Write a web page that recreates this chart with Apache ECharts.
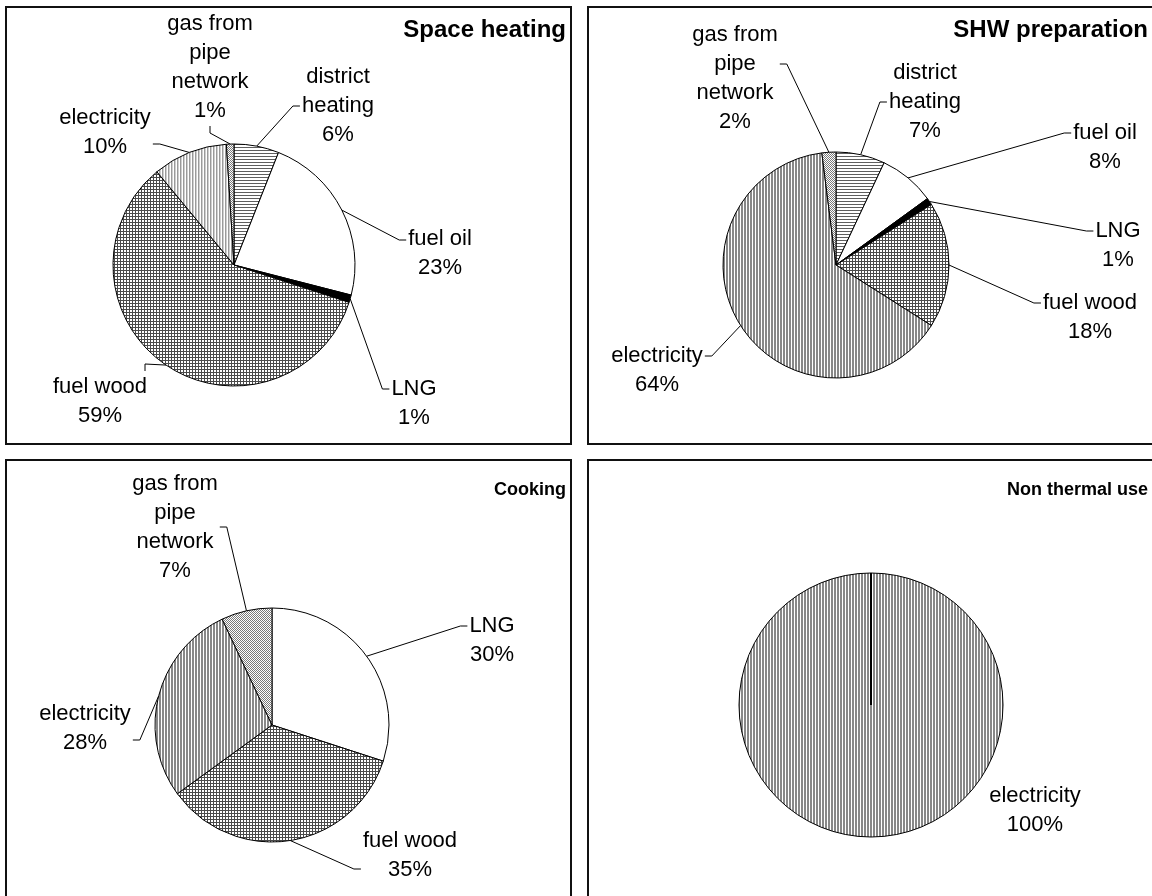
<!DOCTYPE html>
<html>
<head>
<meta charset="utf-8">
<script src="https://cdn.jsdelivr.net/npm/echarts@6/dist/echarts.min.js"></script>
<style>
  html, body { margin: 0; padding: 0; background: #fff; }
  #chart { width: 1152px; height: 896px; }
</style>
</head>
<body>
<div id="chart"></div>
<script>
// ---- data ----
const panelTitles = ['Space heating', 'SHW preparation', 'Cooking', 'Non thermal use'];

const spaceCats = ['district heating', 'fuel oil', 'LNG', 'fuel wood', 'electricity', 'gas from pipe network'];
const spaceVals = [6, 23, 1, 59, 10, 1];

const shwCats = ['district heating', 'fuel oil', 'LNG', 'fuel wood', 'electricity', 'gas from pipe network'];
const shwVals = [7, 8, 1, 18, 64, 2];

const cookCats = ['LNG', 'fuel wood', 'electricity', 'gas from pipe network'];
const cookVals = [30, 35, 28, 7];

const nonThermalCats = ['electricity'];
const nonThermalVals = [100];

// wrapped label text for long category names
const labelText = {
  'district heating': 'district\nheating',
  'gas from pipe network': 'gas from\npipe\nnetwork'
};

// ---- hatch fills ----
function pattern(w, h, draw) {
  const c = document.createElement('canvas');
  c.width = w; c.height = h;
  const g = c.getContext('2d');
  g.imageSmoothingEnabled = false;
  g.fillStyle = '#fff';
  g.fillRect(0, 0, w, h);
  draw(g);
  return { image: c, repeat: 'repeat' };
}
// 6px tiles holding two repeats of a 3px motif
const hStripe = pattern(6, 6, g => { g.fillStyle = '#5e5e5e'; g.fillRect(0, 0, 6, 1); g.fillRect(0, 3, 6, 1); });
const vStripe = pattern(6, 6, g => { g.fillStyle = '#888'; g.fillRect(0, 0, 2, 6); g.fillRect(3, 0, 2, 6); });
const vStripeLight = pattern(6, 6, g => { g.fillStyle = '#9a9a9a'; g.fillRect(0, 0, 1, 6); g.fillRect(3, 0, 1, 6); g.fillStyle = '#cfcfcf'; g.fillRect(1, 0, 1, 6); g.fillRect(4, 0, 1, 6); });
const grid = pattern(6, 6, g => {
  g.fillStyle = '#4a4a4a';
  g.fillRect(0, 0, 6, 1); g.fillRect(0, 3, 6, 1);
  g.fillRect(0, 0, 1, 6); g.fillRect(3, 0, 1, 6);
});
const dots = pattern(6, 6, g => {
  g.fillStyle = '#7a7a7a';
  for (let y = 0; y < 6; y++) for (let x = 0; x < 6; x++) if ((x + y) % 2 === 0) g.fillRect(x, y, 1, 1);
});
const white = '#fff';
const black = '#000';

// ---- layout ----
const pies = [
  { cats: spaceCats, vals: spaceVals, fills: [hStripe, white, black, grid, vStripeLight, dots],
    center: [234, 265], radius: 121,
    // label centre offset from pie centre, side the leader attaches to, attach offset
    spots: [[104, -159, 'l', 0], [206, -12, 'l', -13], [180, 138, 'l', -14], [-134, 136, 't', 45], [-129, -133, 'r', 12], [-24, -198, 'b', 0]] },
  { cats: shwCats, vals: shwVals, fills: [hStripe, white, black, grid, vStripe, dots],
    center: [836, 265], radius: 113,
    spots: [[89, -163, 'l', 0], [269, -118, 'l', -14], [282, -20, 'l', -14], [254, 52, 'l', -14], [-179, 105, 'r', -14], [-101, -187, 'r', -14]] },
  { cats: cookCats, vals: cookVals, fills: [white, grid, vStripe, dots],
    center: [272, 725], radius: 117,
    spots: [[220, -85, 'l', -14], [138, 130, 'l', 14], [-187, 3, 'r', 12], [-97, -198, 'r', 0]] },
  { cats: nonThermalCats, vals: nonThermalVals, fills: [vStripe],
    center: [871, 705], radius: 132,
    spots: [[164, 105, null, 0]] }
];

const panels = [
  { x: 6, y: 7, w: 565, h: 437 },
  { x: 588, y: 7, w: 600, h: 437 },
  { x: 6, y: 460, w: 565, h: 500 },
  { x: 588, y: 460, w: 600, h: 500 }
];
const titleRight = [586, 4, 586, 4];
const titleTop = [18, 18, 481, 481];
const titleSize = [24, 24, 18, 18];

const FONT = '"Liberation Sans", Arial, sans-serif';

function pieSeries(p) {
  const withLines = p.spots.some(s => s[2]);
  return {
    type: 'pie',
    center: p.center,
    radius: p.radius,
    startAngle: 90,
    clockwise: true,
    avoidLabelOverlap: false,
    animation: false,
    silent: true,
    data: p.cats.map((c, i) => ({ name: c, value: p.vals[i], itemStyle: { color: p.fills[i] } })),
    itemStyle: { borderColor: '#000', borderWidth: 1 },
    label: {
      show: true,
      position: 'outside',
      formatter: q => (labelText[q.name] || q.name) + '\n' + q.value + '%',
      fontFamily: FONT,
      fontSize: 22,
      lineHeight: 29,
      color: '#000',
      align: 'center'
    },
    labelLine: { show: withLines, length: 10, length2: 10, lineStyle: { color: '#000', width: 1 } },
    labelLayout: function (params) {
      const s = p.spots[params.dataIndex];
      const w = params.labelRect.width, h = params.labelRect.height;
      const x = p.center[0] + s[0], y = p.center[1] + s[1];
      const out = { x: x, y: y, align: 'center', verticalAlign: 'middle' };
      if (!s[2] || !params.labelLinePoints) return out;
      let ax, ay, ex, ey;
      const off = s[3] || 0;
      if (s[2] === 'l') { ax = x - w / 2 - 2; ay = y + off; ex = ax - 7; ey = ay; }
      else if (s[2] === 'r') { ax = x + w / 2 + 2; ay = y + off; ex = ax + 7; ey = ay; }
      else if (s[2] === 'b') { ax = x + off; ay = y + h / 2 + 1; ex = ax; ey = ay + 7; }
      else { ax = x + off; ay = y - h / 2 - 1; ex = ax; ey = ay - 7; }
      out.labelLinePoints = [params.labelLinePoints[0], [ex, ey], [ax, ay]];
      return out;
    }
  };
}

const graphics = panels.map(r => ({
  type: 'rect', z: 0, silent: true,
  shape: { x: r.x, y: r.y, width: r.w, height: r.h },
  style: { fill: 'none', stroke: '#111', lineWidth: 2 }
}));
// radial edge of the single full slice
const solo = pies[3];
graphics.push({
  type: 'line', z: 10, silent: true,
  shape: { x1: solo.center[0], y1: solo.center[1], x2: solo.center[0], y2: solo.center[1] - solo.radius },
  style: { stroke: '#000', lineWidth: 2 }
});

const chart = echarts.init(document.getElementById('chart'), null, { renderer: 'canvas' });
chart.setOption({
  backgroundColor: '#fff',
  animation: false,
  title: panelTitles.map((t, i) => ({
    text: t, right: titleRight[i], top: titleTop[i], padding: 0,
    textStyle: { fontFamily: FONT, fontSize: titleSize[i], fontWeight: 'bold', color: '#000' }
  })),
  graphic: graphics,
  series: pies.map(pieSeries)
});
</script>
</body>
</html>
